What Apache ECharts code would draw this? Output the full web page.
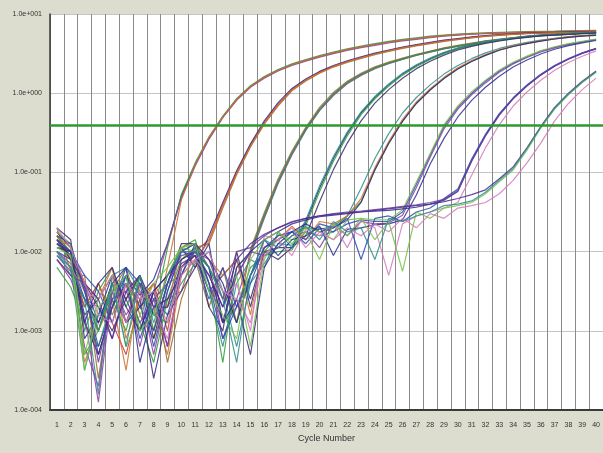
<!DOCTYPE html>
<html><head><meta charset="utf-8">
<script src="https://cdn.jsdelivr.net/npm/echarts@6/dist/echarts.min.js"></script>
<style>html,body{margin:0;padding:0;background:#dcdccf;}#c{width:603px;height:453px;}</style>
</head><body><div id="c"></div>
<script>
// Cycle numbers (x categories)
const cycles = [1,2,3,4,5,6,7,8,9,10,11,12,13,14,15,16,17,18,19,20,21,22,23,24,25,26,27,28,29,30,31,32,33,34,35,36,37,38,39,40];
// Y tick values (log axis decades)
const yTicks = [1e-4,1e-3,1e-2,1e-1,1,10];
const threshold = 0.385;
// Delta Rn per cycle, stored as log10(Delta Rn)
const g1a = [-1.85,-2.05,-2.45,-3.3,-2.7,-2.3,-2.55,-2.35,-1.9,-1.3,-0.9,-0.57,-0.3,-0.08,0.085,0.2,0.29,0.36,0.415,0.465,0.51,0.55,0.585,0.615,0.645,0.67,0.69,0.71,0.728,0.74,0.75,0.757,0.762,0.767,0.772,0.775,0.778,0.782,0.786,0.79];
const g1b = [-1.75,-1.95,-3.0,-2.5,-2.2,-2.9,-2.4,-2.8,-1.95,-1.28,-0.88,-0.55,-0.29,-0.07,0.095,0.21,0.3,0.37,0.425,0.475,0.52,0.56,0.595,0.625,0.655,0.68,0.7,0.72,0.735,0.747,0.756,0.763,0.768,0.773,0.777,0.78,0.783,0.787,0.79,0.795];
const g1c = [-2.05,-2.25,-2.6,-2.7,-3.1,-2.4,-3.2,-2.5,-1.9,-1.33,-0.92,-0.58,-0.31,-0.09,0.075,0.19,0.28,0.35,0.405,0.455,0.5,0.54,0.575,0.605,0.635,0.66,0.68,0.7,0.72,0.733,0.744,0.752,0.758,0.763,0.768,0.772,0.775,0.779,0.783,0.787];
const g1d = [-1.9,-1.9,-3.4,-2.9,-2.4,-2.6,-2.3,-3.0,-2.2,-1.35,-0.9,-0.56,-0.3,-0.08,0.085,0.2,0.29,0.36,0.415,0.465,0.51,0.55,0.585,0.615,0.645,0.67,0.69,0.71,0.728,0.74,0.75,0.757,0.762,0.767,0.772,0.775,0.778,0.782,0.786,0.79];
const g2a = [-1.8,-2.1,-2.7,-2.4,-2.9,-3.3,-2.6,-2.4,-3.0,-2.1,-2.0,-1.85,-1.41,-1.0,-0.66,-0.37,-0.14,0.046,0.17,0.266,0.342,0.4,0.45,0.498,0.538,0.576,0.606,0.636,0.664,0.684,0.704,0.723,0.737,0.747,0.756,0.761,0.766,0.771,0.774,0.777];
const g2b = [-2.1,-2.3,-2.3,-3.6,-2.5,-2.2,-2.8,-3.1,-2.6,-2.5,-1.95,-1.9,-1.45,-1.03,-0.68,-0.39,-0.16,0.03,0.155,0.252,0.33,0.39,0.44,0.488,0.528,0.566,0.597,0.627,0.655,0.676,0.697,0.716,0.731,0.742,0.751,0.757,0.762,0.767,0.77,0.773];
const g2c = [-1.7,-1.85,-3.1,-2.8,-2.3,-2.6,-3.0,-2.5,-2.3,-1.95,-2.2,-1.8,-1.38,-0.98,-0.64,-0.35,-0.12,0.06,0.18,0.275,0.35,0.41,0.46,0.505,0.545,0.583,0.613,0.642,0.67,0.69,0.71,0.728,0.741,0.751,0.759,0.764,0.769,0.774,0.777,0.78];
const g2d = [-1.95,-2.0,-2.5,-3.0,-2.6,-3.5,-2.4,-2.7,-3.3,-2.3,-2.1,-1.87,-1.42,-1.01,-0.67,-0.38,-0.15,0.04,0.165,0.26,0.338,0.397,0.447,0.495,0.535,0.573,0.603,0.633,0.661,0.681,0.701,0.72,0.734,0.745,0.754,0.759,0.764,0.769,0.772,0.775];
const g3a = [-1.85,-2.0,-2.4,-2.9,-2.5,-2.3,-3.1,-2.6,-2.8,-2.2,-2.0,-2.3,-2.7,-2.3,-2.0,-1.54,-1.11,-0.755,-0.45,-0.2,-0.01,0.137,0.24,0.322,0.384,0.435,0.485,0.526,0.566,0.597,0.627,0.657,0.678,0.698,0.718,0.734,0.744,0.754,0.76,0.765];
const g3b = [-2.0,-2.15,-3.2,-3.7,-2.4,-2.8,-2.5,-3.3,-2.5,-2.0,-1.9,-2.2,-3.1,-2.6,-2.05,-1.58,-1.14,-0.78,-0.47,-0.22,-0.03,0.12,0.225,0.31,0.373,0.425,0.476,0.518,0.558,0.59,0.62,0.65,0.672,0.692,0.712,0.728,0.739,0.749,0.755,0.76];
const g3c = [-1.7,-2.25,-2.7,-2.4,-2.8,-2.4,-2.7,-2.4,-3.4,-2.6,-2.1,-2.7,-2.2,-2.9,-1.97,-1.51,-1.08,-0.73,-0.43,-0.18,0.01,0.15,0.252,0.332,0.393,0.443,0.492,0.533,0.572,0.603,0.633,0.662,0.683,0.703,0.722,0.737,0.747,0.757,0.763,0.768];
const g3d = [-2.2,-2.45,-2.9,-3.2,-2.6,-3.0,-2.3,-3.0,-2.4,-1.95,-1.85,-2.4,-3.4,-2.2,-2.02,-1.56,-1.12,-0.76,-0.46,-0.21,-0.02,0.13,0.233,0.316,0.379,0.43,0.48,0.522,0.562,0.594,0.624,0.654,0.675,0.695,0.715,0.731,0.742,0.752,0.758,0.763];
const g4a = [-1.9,-2.05,-2.8,-2.6,-2.3,-2.9,-2.7,-2.5,-3.2,-2.2,-2.05,-2.5,-2.3,-2.1,-2.6,-2.0,-1.95,-1.95,-1.63,-1.2,-0.825,-0.51,-0.25,-0.054,0.105,0.241,0.35,0.436,0.509,0.565,0.608,0.641,0.671,0.694,0.714,0.727,0.737,0.747,0.757,0.764];
const g4b = [-1.8,-2.0,-3.3,-3.0,-2.5,-2.4,-2.9,-3.4,-2.6,-2.1,-1.95,-2.2,-2.9,-2.7,-2.2,-2.05,-2.0,-1.98,-1.67,-1.24,-0.86,-0.54,-0.27,-0.07,0.09,0.228,0.338,0.426,0.5,0.557,0.6,0.634,0.664,0.688,0.708,0.722,0.732,0.742,0.752,0.759];
const g4c = [-2.0,-2.3,-2.6,-3.8,-2.3,-2.2,-2.5,-2.8,-2.7,-2.4,-2.15,-2.0,-2.5,-3.2,-2.4,-2.15,-1.9,-1.92,-1.6,-1.17,-0.8,-0.49,-0.235,-0.04,0.118,0.252,0.36,0.445,0.517,0.572,0.614,0.647,0.676,0.699,0.718,0.731,0.741,0.751,0.761,0.768];
const g4d = [-1.75,-1.95,-2.4,-2.7,-3.0,-2.6,-2.3,-3.1,-2.4,-1.9,-1.9,-2.7,-3.0,-2.0,-2.7,-2.0,-2.1,-1.95,-1.8,-1.37,-0.965,-0.63,-0.35,-0.126,0.045,0.189,0.31,0.404,0.481,0.545,0.592,0.629,0.659,0.686,0.706,0.723,0.733,0.743,0.753,0.762];
const g5a = [-1.9,-2.1,-2.5,-3.0,-2.4,-2.7,-2.3,-2.8,-2.9,-2.2,-2.0,-2.2,-2.5,-2.9,-2.3,-2.0,-1.8,-1.75,-1.7,-1.72,-1.68,-1.55,-1.37,-0.965,-0.63,-0.35,-0.126,0.045,0.189,0.31,0.404,0.481,0.545,0.592,0.629,0.659,0.686,0.706,0.723,0.733];
const g5b = [-2.05,-2.2,-3.5,-2.8,-2.6,-2.3,-3.0,-2.7,-2.4,-2.3,-1.95,-2.5,-3.2,-2.4,-2.1,-2.2,-1.75,-1.95,-1.75,-1.8,-1.75,-1.55,-1.2,-0.825,-0.51,-0.25,-0.054,0.105,0.241,0.35,0.436,0.509,0.565,0.608,0.641,0.671,0.694,0.714,0.727,0.737];
const g5c = [-1.8,-1.95,-2.4,-2.6,-2.2,-3.1,-2.6,-2.4,-2.7,-1.95,-1.9,-2.1,-2.3,-2.1,-2.8,-1.95,-1.85,-1.68,-1.85,-1.62,-1.65,-1.55,-1.33,-0.94,-0.61,-0.33,-0.11,0.058,0.2,0.32,0.413,0.489,0.552,0.598,0.634,0.664,0.69,0.71,0.727,0.737];
const g5d = [-1.95,-2.0,-2.9,-3.3,-2.7,-2.4,-2.6,-3.6,-2.8,-2.5,-2.2,-1.9,-2.9,-2.6,-3.3,-2.2,-1.9,-1.75,-1.65,-1.75,-1.7,-1.6,-1.38,-0.97,-0.635,-0.355,-0.13,0.04,0.185,0.306,0.4,0.478,0.542,0.59,0.627,0.657,0.684,0.704,0.721,0.731];
const g6a = [-1.85,-2.0,-2.3,-2.5,-2.9,-2.3,-2.7,-3.0,-2.4,-2.0,-2.05,-2.6,-2.2,-2.7,-2.4,-1.95,-1.85,-1.75,-1.9,-1.7,-1.75,-1.65,-1.6,-1.62,-1.62,-1.5,-1.15,-0.78,-0.42,-0.18,0.0,0.15,0.28,0.38,0.46,0.53,0.58,0.62,0.65,0.68];
const g6b = [-2.1,-2.35,-2.8,-3.9,-2.5,-2.9,-2.4,-2.6,-3.2,-2.2,-2.0,-2.4,-2.9,-2.3,-2.0,-2.05,-1.95,-1.8,-1.75,-1.95,-1.65,-1.8,-1.62,-1.65,-1.64,-1.54,-1.19,-0.81,-0.45,-0.2,-0.02,0.13,0.265,0.368,0.45,0.52,0.572,0.613,0.644,0.675];
const g6c = [-1.75,-1.9,-3.3,-2.6,-2.3,-3.2,-2.8,-2.4,-2.2,-1.95,-2.0,-2.2,-2.6,-2.3,-3.2,-2.1,-1.78,-1.85,-1.7,-1.75,-1.85,-1.6,-1.58,-1.6,-1.6,-1.47,-1.12,-0.76,-0.4,-0.16,0.02,0.165,0.292,0.39,0.468,0.537,0.586,0.625,0.655,0.684];
const g6d = [-2.0,-2.1,-2.6,-2.9,-2.4,-2.2,-3.4,-2.7,-2.6,-2.3,-1.9,-2.1,-2.4,-2.9,-2.3,-1.85,-2.05,-1.85,-1.8,-1.68,-2.05,-1.72,-1.7,-1.66,-1.65,-1.6,-1.285,-0.895,-0.57,-0.3,-0.09,0.075,0.215,0.33,0.42,0.495,0.555,0.6,0.635,0.665];
const g7a = [-1.9,-2.0,-2.9,-2.4,-2.2,-2.7,-3.0,-2.5,-2.3,-2.1,-2.0,-2.2,-2.9,-2.2,-2.0,-1.85,-1.75,-1.65,-1.6,-1.56,-1.54,-1.52,-1.5,-1.49,-1.48,-1.46,-1.44,-1.4,-1.35,-1.24,-0.86,-0.54,-0.276,-0.072,0.09,0.228,0.34,0.428,0.502,0.56];
const g7b = [-2.0,-2.2,-2.5,-2.6,-2.3,-2.9,-2.5,-2.7,-3.1,-2.3,-2.1,-2.3,-2.6,-2.4,-3.0,-1.8,-1.85,-2.05,-1.72,-1.8,-1.65,-1.95,-1.6,-1.7,-2.3,-1.65,-1.55,-1.5,-1.45,-1.38,-1.035,-0.69,-0.396,-0.162,0.015,0.163,0.29,0.388,0.467,0.535];
const g7c = [-1.8,-1.9,-2.5,-3.2,-2.7,-2.2,-2.4,-3.2,-2.5,-2.0,-1.9,-2.4,-3.1,-2.7,-2.3,-1.95,-1.8,-1.75,-1.85,-1.65,-1.7,-1.58,-2.1,-1.58,-1.55,-1.62,-1.5,-1.45,-1.33,-1.21,-0.83,-0.52,-0.258,-0.058,0.103,0.24,0.35,0.437,0.51,0.567];
const g7d = [-2.1,-2.3,-2.4,-3.4,-2.6,-2.5,-2.9,-2.6,-2.4,-2.05,-2.0,-2.1,-2.6,-2.0,-1.95,-1.8,-1.7,-1.62,-1.58,-1.55,-1.52,-1.5,-1.49,-1.47,-1.45,-1.43,-1.41,-1.38,-1.34,-1.23,-0.85,-0.53,-0.267,-0.065,0.096,0.234,0.345,0.432,0.506,0.563];
const g8a = [-1.85,-2.1,-2.4,-2.6,-3.1,-2.5,-2.3,-2.7,-2.7,-2.15,-2.05,-2.3,-2.7,-2.1,-1.9,-1.78,-1.7,-1.63,-1.58,-1.55,-1.53,-1.51,-1.5,-1.48,-1.46,-1.44,-1.42,-1.4,-1.37,-1.33,-1.28,-1.22,-1.08,-0.93,-0.69,-0.42,-0.18,0.0,0.15,0.28];
const g8b = [-1.95,-2.05,-3.5,-2.7,-2.5,-2.3,-3.0,-2.8,-2.3,-1.95,-1.9,-2.5,-2.8,-3.1,-2.1,-1.85,-1.75,-1.9,-1.75,-2.1,-1.65,-1.8,-1.58,-1.85,-1.62,-2.25,-1.5,-1.58,-1.45,-1.42,-1.38,-1.27,-1.12,-0.97,-0.72,-0.44,-0.2,-0.02,0.135,0.265];
const g8c = [-1.7,-1.95,-2.4,-2.8,-2.9,-2.4,-2.6,-2.5,-2.9,-2.2,-2.1,-2.0,-2.5,-2.6,-2.9,-2.05,-1.85,-1.7,-1.95,-1.75,-1.85,-1.7,-1.8,-1.65,-1.75,-1.58,-1.7,-1.52,-1.58,-1.45,-1.42,-1.38,-1.27,-1.1,-0.88,-0.63,-0.35,-0.13,0.045,0.19];
const g8d = [-2.0,-2.2,-2.6,-3.0,-2.4,-3.2,-2.3,-2.9,-2.3,-2.0,-2.0,-2.2,-2.6,-3.4,-2.3,-1.85,-1.95,-1.8,-1.68,-1.85,-1.62,-1.75,-1.7,-2.1,-1.58,-1.62,-1.55,-1.5,-1.42,-1.4,-1.36,-1.25,-1.1,-0.95,-0.7,-0.43,-0.19,-0.01,0.14,0.27];

const curves = [g1a,g1b,g1c,g1d,g2a,g2b,g2c,g2d,g3a,g3b,g3c,g3d,g4a,g4b,g4c,g4d,g5a,g5b,g5c,g5d,g6a,g6b,g6c,g6d,g7a,g7b,g7c,g7d,g8a,g8b,g8c,g8d];
const colors = [
  '#2a2f8f','#2f9a3c','#8a3ea6','#d2702e',
  '#c8383c','#9a6a2c','#36287e','#d2702e',
  '#2a4ab0','#8a3ea6','#9a6a2c','#2f9a3c',
  '#1f2a7a','#2f9a3c','#2f8c8c','#3a2a6a',
  '#2f9a3c','#2f8c8c','#d2702e','#36287e',
  '#2a4ab0','#8a3ea6','#76c24a','#2a2f8f',
  '#3a2a8a','#d47ab8','#2a4ab0','#6a3aa0',
  '#4a2a90','#76c24a','#d47ab8','#2f8c8c'
];

const series = curves.map((c, i) => ({
  type: 'line',
  data: c.map(v => Math.pow(10, v)),
  symbol: 'none',
  smooth: false,
  silent: true,
  animation: false,
  lineStyle: { width: 1.2, color: colors[i], opacity: 0.85 },
  z: 3
}));
series[0].markLine = {
  silent: true, symbol: 'none', label: { show: false },
  lineStyle: { color: '#2e9a2e', width: 2.5, type: 'solid', opacity: 1 },
  data: [{ yAxis: threshold }], z: 5
};

const fmt = v => { const e = Math.round(Math.log10(v)); return '1.0e' + (e < 0 ? '-' : '+') + String(Math.abs(e)).padStart(3, '0'); };

const chart = echarts.init(document.getElementById('c'), null, { renderer: 'canvas' });
chart.setOption({
  backgroundColor: '#dcdccf',
  animation: false,
  grid: { left: 50, top: 14, width: 555, height: 396, show: true, backgroundColor: '#ffffff', borderWidth: 0 },
  xAxis: {
    type: 'category', data: cycles, boundaryGap: true,
    name: 'Cycle Number', nameLocation: 'middle', nameGap: 23,
    nameTextStyle: { fontSize: 9, color: '#333', fontFamily: 'Liberation Sans Narrow, Liberation Sans, Arial' },
    axisLine: { lineStyle: { color: '#3a3a3a', width: 2 } },
    axisTick: { show: false },
    axisLabel: { interval: 0, fontSize: 7, color: '#333', margin: 12, fontFamily: 'Liberation Sans Narrow, Liberation Sans, Arial' },
    splitLine: { show: true, interval: 0, lineStyle: { color: '#8a8a8a', width: 1 } }
  },
  yAxis: {
    type: 'log', logBase: 10, min: yTicks[0], max: yTicks[yTicks.length - 1],
    axisLine: { show: true, lineStyle: { color: '#3a3a3a', width: 1.5 } },
    axisTick: { show: false },
    axisLabel: { formatter: fmt, fontSize: 7, color: '#333', margin: 8, fontFamily: 'Liberation Sans Narrow, Liberation Sans, Arial' },
    splitLine: { show: true, lineStyle: { color: '#c4c4c4', width: 1 } }
  },
  series: series
});
</script></body></html>
